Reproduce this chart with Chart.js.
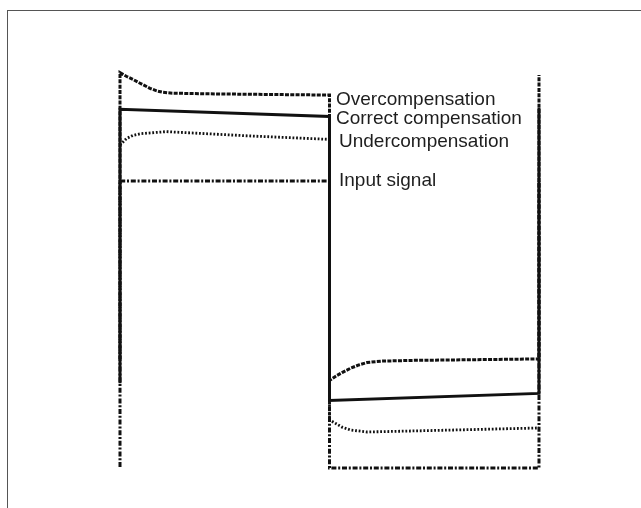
<!DOCTYPE html>
<html>
<head>
<meta charset="utf-8">
<script src="https://cdn.jsdelivr.net/npm/chart.js@4.4.1/dist/chart.umd.min.js"></script>
<style>
  html, body { margin: 0; padding: 0; background: #fff; }
  #wrap { position: relative; width: 641px; height: 508px; overflow: hidden; }
  #frame { position: absolute; left: 7px; top: 10px; right: -2px; bottom: -2px;
           border-top: 1px solid #555; border-left: 1px solid #555; }
  canvas { position: absolute; left: 0; top: 0; }
  .lbl { position: absolute; font-family: "Liberation Sans", Arial, sans-serif;
         font-size: 19px; color: #1e1e1e; white-space: nowrap; line-height: 1; }
</style>
</head>
<body>
<div id="wrap">
  <div id="frame"></div>
  <canvas id="c" width="641" height="508"></canvas>
</div>
<script>
// time axis: one period of the square wave = 0..2, amplitude: input signal = +/-1
const labels = ["Overcompensation", "Correct compensation", "Undercompensation", "Input signal"];

const overX = [0, 0, 0.03, 0.062, 0.1, 0.143, 0.175, 0.205, 0.25, 0.4, 0.7, 1,
               1, 1.03, 1.06, 1.1, 1.14, 1.18, 1.25, 1.4, 2, 2];
const overY = [-0.24, 1.755, 1.73, 1.708, 1.678, 1.646, 1.628, 1.618, 1.612, 1.608, 1.603, 1.599,
               -0.39, -0.36, -0.335, -0.305, -0.282, -0.265, -0.255, -0.25, -0.24, 1.739];

const correctX = [0, 0, 1, 1, 2, 2];
const correctY = [-0.41, 1.5, 1.45, -0.53, -0.48, 1.509];

const underX = [0, 0.03, 0.062, 0.1, 0.22, 0.62, 1,
                1, 1.03, 1.06, 1.1, 1.18, 1.3, 1.6, 2];
const underY = [1.25, 1.295, 1.318, 1.33, 1.344, 1.314, 1.29,
                -0.665, -0.69, -0.715, -0.735, -0.749, -0.745, -0.735, -0.721];

const inputX = [0, 0, 1, 1, 2, 2];
const inputY = [-0.993, 1, 1, -1, -1, 1];

const pts = (xs, ys) => xs.map((x, i) => ({ x, y: ys[i] }));

const base = { showLine: true, pointRadius: 0, borderColor: "#111", tension: 0, fill: false };

new Chart(document.getElementById("c"), {
  type: "scatter",
  data: {
    datasets: [
      { ...base, data: pts(correctX, correctY), borderWidth: 3 },
      { ...base, data: pts(overX, overY), borderWidth: 3, borderDash: [4, 1.3] },
      { ...base, data: pts(underX, underY), borderWidth: 2.8, borderDash: [1.8, 1.8] },
      { ...base, data: pts(inputX, inputY), borderWidth: 3, borderDash: [5, 1.8, 2, 1.8] },
    ],
  },
  options: {
    responsive: false,
    animation: false,
    layout: { padding: 0 },
    plugins: { legend: { display: false }, tooltip: { enabled: false } },
    scales: {
      x: { type: "linear", display: false, min: -0.5728, max: 2.4869 },
      y: { type: "linear", display: false, min: -1.2787, max: 2.2613 },
    },
  },
});

// labels beside the middle transition
const labelPos = [[336, 89], [336, 108], [339, 131], [339, 170]];
labels.forEach((t, i) => {
  const d = document.createElement("div");
  d.className = "lbl";
  d.textContent = t;
  d.style.left = labelPos[i][0] + "px";
  d.style.top = labelPos[i][1] + "px";
  document.getElementById("wrap").appendChild(d);
});
</script>
</body>
</html>
